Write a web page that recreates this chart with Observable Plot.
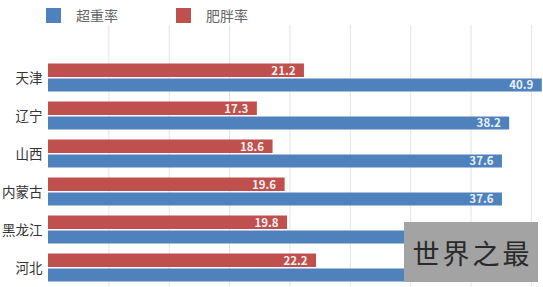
<!DOCTYPE html>
<html>
<head>
<meta charset="utf-8">
<script src="https://cdn.jsdelivr.net/npm/d3@7"></script>
<script src="https://cdn.jsdelivr.net/npm/@observablehq/plot@0.6"></script>
<style>
  html, body { margin: 0; padding: 0; background: #fff; }
  #wrap { position: relative; width: 543px; height: 287px; overflow: hidden; font-family: "Noto Sans CJK SC", "Noto Sans", sans-serif; }
  .leg { position: absolute; top: 0; height: 30px; display: flex; align-items: center; font-size: 14px; color: #666; }
  .sw { display: inline-block; width: 15px; height: 15px; margin-right: 15px; }
  #wm { position: absolute; left: 404px; top: 222px; width: 134px; height: 60px; background: #a3a3a3; color: #2a2a2a;
        font-size: 27px; display: flex; align-items: center; justify-content: center; letter-spacing: 3px; padding-left: 3px;
        white-space: nowrap; box-sizing: border-box; }
</style>
</head>
<body>
<div id="wrap">
  <div id="chart"></div>
  <div class="leg" style="left:46px"><span class="sw" style="background:#4f81bd"></span>超重率</div>
  <div class="leg" style="left:176px"><span class="sw" style="background:#c0504d"></span>肥胖率</div>
  <div id="wm">世界之最</div>
</div>
<script>
const provinces = ["天津", "辽宁", "山西", "内蒙古", "黑龙江", "河北"];
const overweight = [40.9, 38.2, 37.6, 37.6, 37.4, 37.0];
const obesity = [21.2, 17.3, 18.6, 19.6, 19.8, 22.2];
const xTicks = [0, 5, 10, 15, 20, 25, 30, 35, 40];
// provinces whose 超重率 label is covered by the watermark in the source image
const coveredLabels = ["黑龙江", "河北"];

const rows = provinces.map((p, i) => ({province: p, overweight: overweight[i], obesity: obesity[i]}));

const blue = "#4f81bd", red = "#c0504d";

const chart = Plot.plot({
  width: 543,
  height: 287,
  marginLeft: 48,
  marginRight: 0,
  marginTop: 25,
  marginBottom: 0.5,
  style: {fontFamily: "'Noto Sans CJK SC', sans-serif", background: "transparent"},
  x: {domain: [0, 41], axis: null},
  y: {domain: provinces, type: "band", paddingInner: 0, paddingOuter: 0.3526, align: 1, label: null},
  marks: [
    Plot.ruleX(xTicks.slice(1), {stroke: "#e4e4e4", strokeWidth: 1}),
    Plot.barX(rows, {y: "province", x: "obesity", fill: red, insetTop: 4.5, insetBottom: 20}),
    Plot.barX(rows, {y: "province", x: "overweight", fill: blue, insetTop: 19.5, insetBottom: 5.5}),
    Plot.text(rows, {y: "province", x: "obesity", text: d => d.obesity.toFixed(1), textAnchor: "end", dx: -9, dy: -7.5,
      fill: "#f4f0f0", fontSize: 11.5, fontWeight: "bold"}),
    Plot.text(rows.filter(d => !coveredLabels.includes(d.province)), {y: "province", x: "overweight",
      text: d => d.overweight.toFixed(1), textAnchor: "end", dx: -9, dy: 7,
      fill: "#e8f0f8", fontSize: 11.5, fontWeight: "bold"}),
    Plot.axisY({tickSize: 0, tickPadding: 6, fontSize: 13.5, color: "#333", label: null})
  ]
});
document.getElementById("chart").appendChild(chart);
</script>
</body>
</html>
